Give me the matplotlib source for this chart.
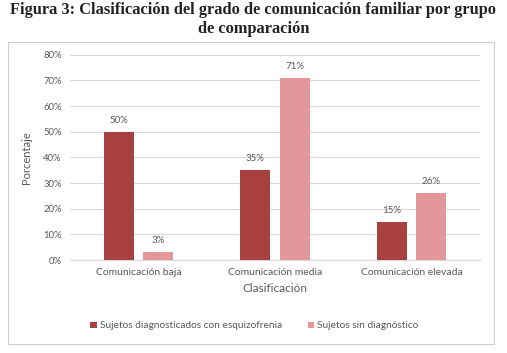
import matplotlib.pyplot as plt
import numpy as np
from matplotlib.patches import Rectangle

categories = ['Comunicación baja', 'Comunicación media', 'Comunicación elevada']
esquizofrenia = [0.50, 0.35, 0.15]
sin_diagnostico = [0.03, 0.71, 0.26]
series_names = ['Sujetos diagnosticados con esquizofrenia', 'Sujetos sin diagnóstico']
yticks = [0, 0.1, 0.2, 0.3, 0.4, 0.5, 0.6, 0.7, 0.8]

W, H = 507, 353
fig = plt.figure(figsize=(W / 100, H / 100), dpi=100)
plt.rcParams['font.family'] = ['Lato', 'DejaVu Sans']
gray = '#595959'

# outer chart frame
fig.patches.append(Rectangle((8 / W, 9 / H), 486 / W, 302 / H, transform=fig.transFigure,
                             fill=False, edgecolor='#d0d0d0', linewidth=0.8))

fig.text(0.5, 1 - 10 / H, 'Figura 3: Clasificación del grado de comunicación familiar por grupo',
         ha='center', va='center', fontsize=11.8, fontweight='bold',
         family='Liberation Serif', color='#222222')
fig.text(0.5, 1 - 29 / H, 'de comparación', ha='center', va='center', fontsize=11.8,
         fontweight='bold', family='Liberation Serif', color='#222222')

ax = fig.add_axes([70 / W, (H - 260) / H, 410 / W, (260 - 54.7) / H])
x = np.arange(len(categories))
bw = 0.22
off = 0.143
b1 = ax.bar(x - off, esquizofrenia, bw, color='#a8403f', label=series_names[0], zorder=3)
b2 = ax.bar(x + off, sin_diagnostico, bw, color='#e3979a', label=series_names[1], zorder=3)

for bars, vals in ((b1, esquizofrenia), (b2, sin_diagnostico)):
    for rect, v in zip(bars, vals):
        ax.annotate(f'{v * 100:.0f}%', (rect.get_x() + rect.get_width() / 2, v),
                    xytext=(0, 5), textcoords='offset points', ha='center', va='bottom',
                    fontsize=7, color=gray)

ax.set_xlim(-0.5, 2.5)
ax.set_ylim(0, 0.8)
ax.set_yticks(yticks)
ax.set_yticklabels([f'{t * 100:.0f}%' for t in yticks], fontsize=6.8, color=gray)
ax.set_xticks(x)
ax.set_xticklabels(categories, fontsize=7.5, color=gray)
ax.tick_params(length=0, pad=6)
ax.grid(axis='y', color='#d9d9d9', linewidth=0.8, zorder=0)
for s in ax.spines.values():
    s.set_visible(False)
ax.spines['bottom'].set_visible(True)
ax.spines['bottom'].set_color('#d9d9d9')

ax.set_ylabel('Porcentaje', fontsize=8, color=gray, labelpad=8)
ax.set_xlabel('Clasificación', fontsize=8.5, color=gray, labelpad=4)

ax.legend(loc='center', bbox_to_anchor=(0.45, -(326 - 260) / (260 - 54.7)), ncol=2,
          frameon=False, fontsize=7.3, handlelength=0.6, handleheight=0.6,
          handletextpad=0.3, columnspacing=2.6, labelcolor=gray)

fig.savefig('out.png', dpi=100)
